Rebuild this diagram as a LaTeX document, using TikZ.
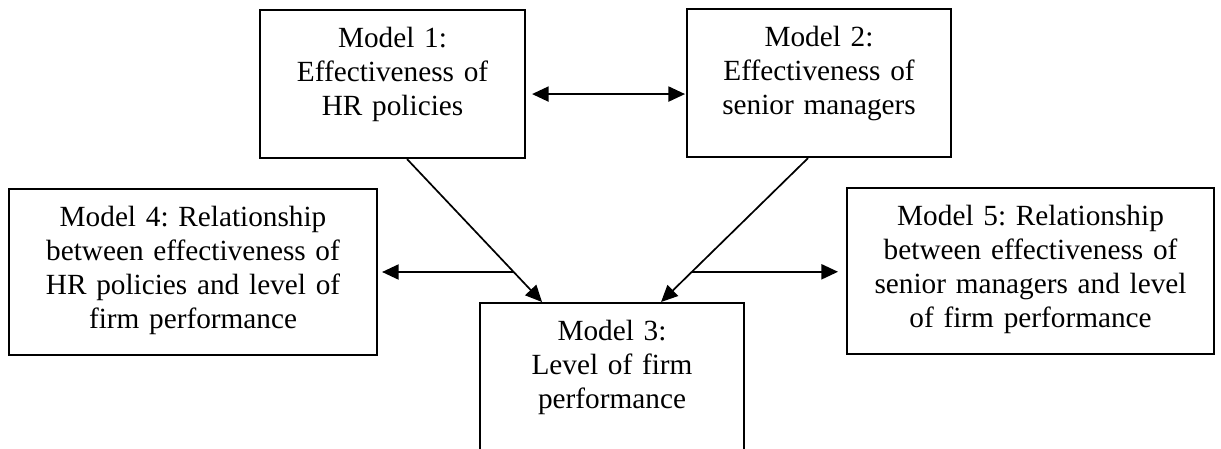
\documentclass[tikz,border=0pt]{standalone}
\usepackage{fontspec}
\setmainfont{Liberation Serif}
\usepackage{tikz}
\usetikzlibrary{arrows.meta}
\frenchspacing

\begin{document}
\begin{tikzpicture}[
  x=0.41pt, y=-0.41pt,
  font=\fontsize{12pt}{13.94pt}\selectfont,
  >={Triangle[length=6.8pt, width=6.2pt]},
  model/.style={draw, line width=0.85pt, inner sep=0pt, align=center,
    text height=15.17pt, anchor=north west},
  link/.style={line width=0.7pt, ->}
]
  \clip (0,0) rectangle (1221,448);

  \node[model, text width=108.65pt, text depth=45.51pt] (m1) at (259,9)
    {Model 1:\\Effectiveness of\\HR policies};
  \node[model, text width=108.24pt, text depth=45.51pt] (m2) at (686,8)
    {Model 2:\\Effectiveness of\\senior managers};
  \node[model, text width=108.24pt, text depth=53.71pt] (m3) at (479,302)
    {Model 3:\\Level of firm\\performance};
  \node[model, text width=150.88pt, text depth=52.89pt] (m4) at (8,188)
    {Model 4: Relationship\\between effectiveness of\\HR policies and level of\\firm performance};
  \node[model, text width=150.47pt, text depth=52.89pt] (m5) at (846,187)
    {Model 5: Relationship\\between effectiveness of\\senior managers and level\\of firm performance};

  \draw[link, <->] ([xshift=2.46pt, yshift=-4.1pt]m1.east)
    -- ([xshift=-0.41pt, yshift=-4.51pt]m2.west);
  \draw[link] ([xshift=5.95pt]m1.south) -- coordinate[pos=0.79] (j1)
    ([xshift=-28.7pt]m3.north);
  \draw[link] ([xshift=-4.51pt]m2.south) -- coordinate[pos=0.79] (j2)
    ([xshift=20.09pt]m3.north);
  \draw[link, shorten >=1.64pt] (j1) -- (j1 -| m4.east);
  \draw[link, shorten >=3.28pt] (j2) -- (j2 -| m5.west);
\end{tikzpicture}
\end{document}
